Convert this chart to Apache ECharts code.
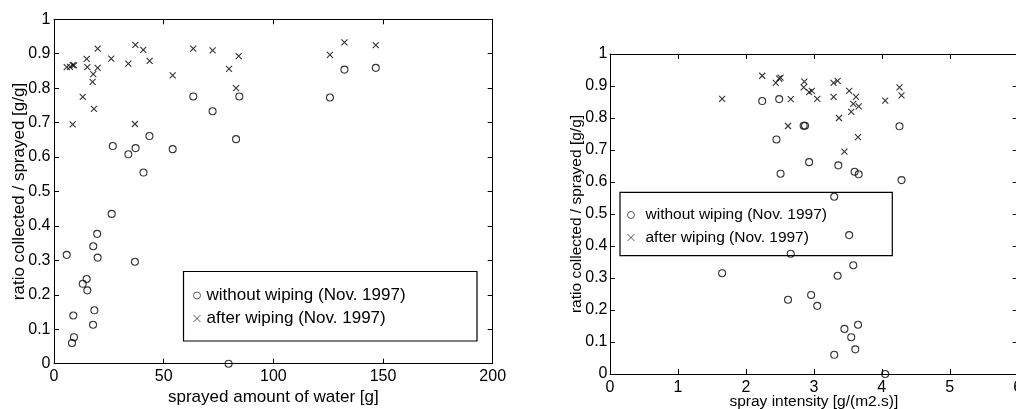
<!DOCTYPE html>
<html>
<head>
<meta charset="utf-8">
<script src="https://cdn.jsdelivr.net/npm/echarts@6/dist/echarts.min.js"></script>
<style>
html,body{margin:0;padding:0;background:#fff;}
#chart{width:1016px;height:409px;}
</style>
</head>
<body>
<div id="chart"></div>
<script>
// ---- data ----
const seriesNames = ['without wiping (Nov. 1997)', 'after wiping (Nov. 1997)'];

// left: ratio vs sprayed amount of water [g]
const amountWithout = [5.8, 8.2, 8.8, 9.1, 13.1, 14.9, 15.2, 17.8, 17.9, 18.4, 19.7, 19.9, 26.3, 26.8, 33.9, 36.9, 37.2, 40.8, 43.5, 54.1, 63.5, 72.3, 79.6, 83.0, 84.5, 125.8, 132.4, 146.7];
const ratioAmountWithout = [0.316, 0.060, 0.140, 0.077, 0.232, 0.246, 0.213, 0.113, 0.341, 0.155, 0.377, 0.308, 0.435, 0.632, 0.608, 0.296, 0.626, 0.555, 0.661, 0.623, 0.776, 0.733, 0.000, 0.652, 0.776, 0.773, 0.854, 0.859];
const amountAfter = [5.8, 7.3, 8.5, 9.1, 8.5, 13.1, 14.9, 15.2, 17.9, 17.6, 18.2, 19.9, 19.9, 26.1, 33.9, 37.1, 36.9, 40.7, 43.6, 54.1, 63.5, 72.3, 79.8, 83.0, 84.2, 125.8, 132.4, 146.7];
const ratioAmountAfter = [0.861, 0.862, 0.867, 0.866, 0.695, 0.775, 0.885, 0.861, 0.841, 0.818, 0.740, 0.915, 0.859, 0.886, 0.871, 0.926, 0.696, 0.911, 0.879, 0.837, 0.915, 0.910, 0.856, 0.800, 0.893, 0.897, 0.933, 0.925];

// right: ratio vs spray intensity [g/(m2.s)]
const intensityWithout = [1.65, 2.24, 2.49, 2.85, 2.87, 2.45, 4.26, 2.93, 3.36, 3.60, 3.66, 2.51, 4.29, 3.30, 3.52, 2.66, 3.58, 3.35, 2.62, 2.96, 3.05, 3.45, 3.65, 3.55, 3.61, 3.30, 4.05];
const ratioIntensityWithout = [0.315, 0.853, 0.859, 0.776, 0.776, 0.733, 0.774, 0.662, 0.652, 0.632, 0.624, 0.626, 0.606, 0.554, 0.434, 0.376, 0.340, 0.307, 0.232, 0.247, 0.213, 0.141, 0.154, 0.115, 0.077, 0.060, 0.000];
const intensityAfter = [1.65, 2.24, 2.44, 2.49, 2.51, 2.66, 2.62, 2.86, 2.85, 2.93, 2.97, 3.05, 3.29, 3.35, 3.29, 3.37, 3.52, 3.62, 3.58, 3.66, 3.55, 3.65, 3.45, 4.05, 4.26, 4.29];
const ratioIntensityAfter = [0.860, 0.932, 0.910, 0.923, 0.926, 0.859, 0.775, 0.914, 0.896, 0.881, 0.885, 0.860, 0.910, 0.916, 0.866, 0.800, 0.885, 0.866, 0.844, 0.836, 0.819, 0.740, 0.695, 0.854, 0.896, 0.871];

const zip = (xs, ys) => xs.map((x, i) => [x, ys[i]]);

// ---- styling ----
const FONT = "'Liberation Sans', Arial, Helvetica, sans-serif";
const CROSS = 'path://M0,0L10,10M10,0L0,10';
const lineStyle = { color: '#000', width: 1 };

function axesFor(gridIndex, min, max, interval, isX, name, nameGap, fontSize, nameSize, labelMargin) {
  const base = {
    gridIndex, type: 'value', min, max, interval,
    splitLine: { show: false },
    axisLine: { show: true, onZero: false, lineStyle },
    axisTick: { show: true, inside: true, length: 5, lineStyle },
  };
  const main = Object.assign({}, base, {
    position: isX ? 'bottom' : 'left',
    name, nameLocation: 'middle', nameGap, nameMoveOverlap: false,
    nameTextStyle: { color: '#000', fontFamily: FONT, fontSize: nameSize },
    axisLabel: { color: '#000', fontFamily: FONT, fontSize, margin: labelMargin },
  });
  const opp = Object.assign({}, base, {
    position: isX ? 'top' : 'right',
    axisLabel: { show: false },
  });
  return [main, opp];
}

const la = axesFor(0, 0, 200, 50, true, 'sprayed amount of water [g]', 25, 16, 17, 5);
const ly = axesFor(0, 0, 1, 0.1, false, 'ratio collected / sprayed [g/g]', 26, 16, 17, 3.5);
const ra = axesFor(1, 0, 6, 1, true, 'spray intensity [g/(m2.s)]', 20, 16, 15.5, 6);
const ry = axesFor(1, 0, 1, 0.1, false, 'ratio collected / sprayed [g/g]', 25, 16, 15.5, 2.5);

const circleStyle = { color: 'none', borderColor: '#000', borderWidth: 1.1 };
const crossStyle = { color: 'none', borderColor: '#000', borderWidth: 1.1 };

const option = {
  animation: false,
  backgroundColor: '#fff',
  textStyle: { fontFamily: FONT },
  grid: [
    { left: 54, top: 19.3, width: 438.7, height: 344.4, outerBoundsMode: 'none', containLabel: false },
    { left: 610, top: 54, width: 407.7, height: 320, outerBoundsMode: 'none', containLabel: false },
  ],
  xAxis: [la[0], la[1], ra[0], ra[1]],
  yAxis: [ly[0], ly[1], ry[0], ry[1]],
  legend: [
    {
      data: seriesNames, orient: 'vertical', left: 191, top: 287, padding: 0,
      itemWidth: 9, itemHeight: 7, itemGap: 6,
      itemStyle: { borderWidth: 0.8 },
      textStyle: { color: '#000', fontFamily: FONT, fontSize: 17 },
    },
    {
      data: seriesNames, orient: 'vertical', left: 625, top: 207, padding: 0,
      itemWidth: 19, itemHeight: 7, itemGap: 6.5,
      itemStyle: { borderWidth: 0.8 },
      textStyle: { color: '#000', fontFamily: FONT, fontSize: 15.5 },
    },
  ],
  graphic: [
    { type: 'rect', shape: { x: 183.5, y: 271.5, width: 293.5, height: 69.5 }, style: { fill: 'none', stroke: '#000', lineWidth: 1.2 }, z: 10 },
    { type: 'rect', shape: { x: 620, y: 192.3, width: 272.3, height: 63.4 }, style: { fill: 'none', stroke: '#000', lineWidth: 1.2 }, z: 10 },
  ],
  series: [
    { name: seriesNames[0], type: 'scatter', xAxisIndex: 0, yAxisIndex: 0, symbol: 'circle', symbolSize: 7, itemStyle: circleStyle, data: zip(amountWithout, ratioAmountWithout) },
    { name: seriesNames[1], type: 'scatter', xAxisIndex: 0, yAxisIndex: 0, symbol: CROSS, symbolSize: 6, symbolKeepAspect: true, itemStyle: crossStyle, data: zip(amountAfter, ratioAmountAfter) },
    { name: seriesNames[0], type: 'scatter', xAxisIndex: 2, yAxisIndex: 2, symbol: 'circle', symbolSize: 7, itemStyle: circleStyle, data: zip(intensityWithout, ratioIntensityWithout) },
    { name: seriesNames[1], type: 'scatter', xAxisIndex: 2, yAxisIndex: 2, symbol: CROSS, symbolSize: 6, symbolKeepAspect: true, itemStyle: crossStyle, data: zip(intensityAfter, ratioIntensityAfter) },
  ],
};

const chart = echarts.init(document.getElementById('chart'), null, { renderer: 'canvas' });
chart.setOption(option);
</script>
</body>
</html>
